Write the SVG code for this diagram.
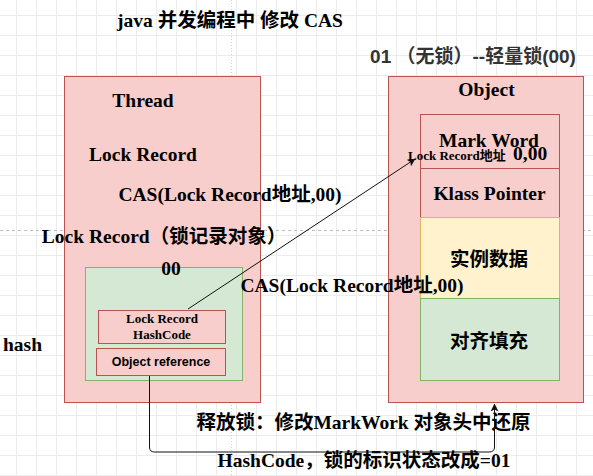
<svg xmlns="http://www.w3.org/2000/svg" width="593" height="476" viewBox="0 0 593 476">
<defs>
<pattern id="grid" width="20" height="20" patternUnits="userSpaceOnUse" x="16" y="15">
<path d="M0 0.5 H20 M0.5 0 V20" fill="none" stroke="#ececec" stroke-width="1"/>
</pattern>
<marker id="arr" viewBox="0 0 8 8" markerWidth="8" markerHeight="8" refX="7.5" refY="4" orient="auto" markerUnits="userSpaceOnUse">
<path d="M0,0 L8,4 L0,8 L2,4 z" fill="#111"/>
</marker>
<style>
.red{fill:#f8cecc;stroke:#b85450;stroke-width:1}
.grn{fill:#d5e8d4;stroke:#82b366;stroke-width:1}
.yel{fill:#fff2cc;stroke:#d6b656;stroke-width:1}
.t{font-family:"Liberation Serif","Noto Sans CJK SC",serif;font-weight:bold;font-size:19.5px;fill:#000}
.s{font-family:"Liberation Sans","Noto Sans CJK SC",sans-serif;font-weight:bold;fill:#000}
.c{text-anchor:middle}
.edge{fill:none;stroke:#111;stroke-width:1}
</style>
</defs>
<rect width="593" height="476" fill="#fff"/>
<rect width="593" height="476" fill="url(#grid)"/>
<line x1="0" y1="230.5" x2="593" y2="230.5" stroke="#bdbdbd" stroke-dasharray="3,3"/>
<line x1="231.5" y1="0" x2="231.5" y2="476" stroke="#d0d0d0" stroke-dasharray="1,2"/>

<text class="t c" x="230" y="27" font-size="18">java 并发编程中 修改 CAS</text>
<text class="s c" x="473" y="63" font-size="19" style="fill:#333">01 （无锁）--轻量锁(00)</text>

<g id="thread">
<rect class="red" x="64.5" y="76.5" width="196" height="326"/>
<text class="t c" x="143" y="107">Thread</text>
<text class="t c" x="143" y="161">Lock Record</text>
</g>

<g id="lockRecord">
<rect class="grn" x="85.5" y="267.5" width="157" height="113"/>
<text class="t c" x="171" y="275">00</text>
</g>

<g id="lrHash">
<rect class="red" x="98.5" y="310.5" width="127" height="33"/>
<text class="t c" x="162" y="323" style="font-size:13px">Lock Record</text>
<text class="t c" x="162" y="339" style="font-size:13px">HashCode</text>
</g>

<g id="objRef">
<rect class="red" x="96.5" y="348.5" width="129" height="27"/>
<text class="s c" x="161" y="366" font-size="12.5">Object reference</text>
</g>

<g id="object">
<rect class="red" x="388.5" y="76.5" width="195" height="326"/>
<text class="t c" x="486.5" y="96">Object</text>
</g>

<g id="markWord">
<rect class="red" x="420.5" y="114.5" width="139" height="54"/>
<text class="t c" x="489" y="147">Mark Word</text>
</g>

<g id="klass">
<rect class="red" x="420.5" y="168.5" width="139" height="49"/>
<text class="t c" x="489.5" y="200">Klass Pointer</text>
</g>

<g id="instance">
<rect class="yel" x="420.5" y="217.5" width="139" height="81"/>
<text class="s c" x="489" y="266" font-size="19.5">实例数据</text>
</g>

<g id="padding">
<rect class="grn" x="420.5" y="298.5" width="139" height="82"/>
<text class="s c" x="489" y="348" font-size="19.5">对齐填充</text>
</g>

<g id="labels">
<text class="t c" x="230" y="201">CAS(Lock Record地址,00)</text>
<text class="t c" x="164" y="243">Lock Record（锁记录对象）</text>
<text class="t c" x="352" y="292">CAS(Lock Record地址,00)</text>
<text class="t" x="3" y="351">hash</text>
<text class="t" x="408" y="160" style="font-size:13px">Lock Record地址</text>
<text class="t" x="513" y="160">0,00</text>
<text class="t c" x="363.5" y="429">释放锁：修改MarkWork 对象头中还原</text>
<text class="t c" x="364" y="467">HashCode，锁的标识状态改成=01</text>
</g>

<g id="connectors">
<line class="edge" x1="188" y1="309" x2="415" y2="159" marker-end="url(#arr)"/>
<path class="edge" d="M149.5,376 V447 Q149.5,452 154.5,452 H489 Q494.5,452 494.5,447 V404" marker-end="url(#arr)"/>
</g>
</svg>
